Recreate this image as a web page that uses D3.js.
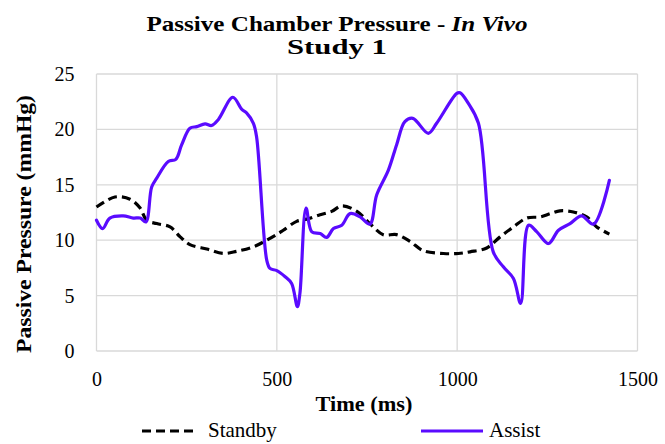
<!DOCTYPE html>
<html>
<head>
<meta charset="utf-8">
<script src="https://cdn.jsdelivr.net/npm/d3@7"></script>
<style>
  html, body { margin: 0; padding: 0; background: #fff; }
</style>
</head>
<body>
<svg id="chart" width="665" height="444"></svg>
<script>
// Passive chamber pressure traces (time in ms, pressure in mmHg)
const standbyTime = [0, 51, 93, 121, 139, 167, 204, 232, 259, 306, 352, 389, 435, 472, 504, 518, 555, 583, 620, 652, 680, 722, 758, 795, 832, 869, 906, 962, 1003, 1036, 1082, 1119, 1156, 1193, 1230, 1258, 1285, 1322, 1359, 1387, 1422];
const standbyValues = [13.0, 13.9, 13.7, 12.9, 11.8, 11.5, 11.2, 10.3, 9.6, 9.2, 8.8, 9.0, 9.4, 10.0, 10.6, 10.9, 11.7, 11.9, 12.3, 12.6, 13.1, 12.6, 11.5, 10.5, 10.5, 9.9, 9.05, 8.8, 8.8, 8.95, 9.3, 10.3, 11.2, 12.0, 12.1, 12.4, 12.65, 12.55, 12.1, 11.2, 10.55];

const assistTime = [0, 17, 37, 74, 102, 121, 137, 153, 167, 199, 220, 236, 259, 278, 301, 319, 338, 378, 403, 416, 435, 444, 472, 481, 500, 523, 541, 557, 564, 581, 597, 620, 638, 657, 680, 703, 731, 758, 777, 809, 832, 855, 877, 920, 943, 999, 1008, 1031, 1059, 1100, 1128, 1156, 1176, 1198, 1221, 1253, 1281, 1313, 1345, 1378, 1422];
const assistValues = [11.8, 11.05, 12.0, 12.2, 12.0, 12.0, 11.65, 14.8, 15.6, 17.1, 17.3, 18.6, 20.1, 20.25, 20.5, 20.35, 20.9, 22.9, 21.8, 21.5, 20.55, 19.3, 8.2, 7.45, 7.25, 6.7, 6.1, 4.0, 5.2, 12.9, 10.75, 10.6, 10.25, 11.05, 11.35, 12.4, 12.1, 11.45, 14.1, 16.3, 18.6, 20.7, 21.0, 19.65, 20.55, 23.25, 23.3, 22.35, 20.55, 8.95, 7.6, 6.55, 4.3, 11.35, 10.75, 9.7, 10.9, 11.5, 12.2, 11.45, 15.4];

const xTicks = [0, 500, 1000, 1500];
const yTicks = [0, 5, 10, 15, 20, 25];
const seriesNames = ["Standby", "Assist"];
const seriesColors = ["#000000", "#5a0bff"];

const FONT = "Liberation Serif";
const svg = d3.select("#chart");
const plot = { left: 96.5, right: 637.5, top: 74, bottom: 351 };

const x = d3.scaleLinear().domain([0, 1500]).range([plot.left, plot.right]);
const y = d3.scaleLinear().domain([0, 25]).range([plot.bottom, plot.top]);

// Grid
const grid = svg.append("g").attr("stroke", "#d9d9d9").attr("stroke-width", 1.3);
grid.selectAll("line.h").data(yTicks).join("line")
  .attr("x1", plot.left).attr("x2", plot.right)
  .attr("y1", d => y(d)).attr("y2", d => y(d));
grid.selectAll("line.v").data(xTicks).join("line")
  .attr("y1", plot.top).attr("y2", plot.bottom)
  .attr("x1", d => x(d)).attr("x2", d => x(d));

// Axes (labels only; lines come from the grid)
const yAxis = svg.append("g").attr("transform", `translate(${plot.left},0)`)
  .call(d3.axisLeft(y).tickValues(yTicks).tickFormat(d3.format("d")).tickSize(0).tickPadding(22));
const xAxis = svg.append("g").attr("transform", `translate(0,${plot.bottom})`)
  .call(d3.axisBottom(x).tickValues(xTicks).tickFormat(d3.format("d")).tickSize(0).tickPadding(21));
[yAxis, xAxis].forEach(a => {
  a.select(".domain").remove();
  a.attr("font-family", null).attr("font-size", null);
  a.selectAll("text").attr("fill", "#000").attr("font-family", FONT).attr("font-size", 20);
});

// Lines
const line = d3.line().x(d => x(d[0])).y(d => y(d[1])).curve(d3.curveCatmullRom.alpha(0.5));
const standby = d3.zip(standbyTime, standbyValues);
const assist = d3.zip(assistTime, assistValues);

svg.append("path").datum(standby)
  .attr("fill", "none").attr("stroke", seriesColors[0]).attr("stroke-width", 3.2)
  .attr("stroke-dasharray", "9,5").attr("d", line);
svg.append("path").datum(assist)
  .attr("fill", "none").attr("stroke", seriesColors[1]).attr("stroke-width", 3.2)
  .attr("stroke-linejoin", "round").attr("stroke-linecap", "round").attr("d", line);

// Titles
const title = svg.append("text").attr("x", 337).attr("y", 31).attr("text-anchor", "middle")
  .attr("font-family", FONT).attr("font-size", 22).attr("font-weight", "bold")
  .attr("textLength", 381).attr("lengthAdjust", "spacingAndGlyphs");
title.append("tspan").text("Passive Chamber Pressure - ");
title.append("tspan").attr("font-style", "italic").text("In Vivo");
svg.append("text").attr("x", 337).attr("y", 54).attr("text-anchor", "middle")
  .attr("font-family", FONT).attr("font-size", 22).attr("font-weight", "bold")
  .attr("textLength", 100).attr("lengthAdjust", "spacingAndGlyphs").text("Study 1");

svg.append("text").attr("x", 364).attr("y", 411).attr("text-anchor", "middle")
  .attr("font-family", FONT).attr("font-size", 21).attr("font-weight", "bold")
  .attr("textLength", 97).attr("lengthAdjust", "spacingAndGlyphs").text("Time (ms)");
svg.append("text").attr("transform", "translate(31,224) rotate(-90)").attr("text-anchor", "middle")
  .attr("font-family", FONT).attr("font-size", 22).attr("font-weight", "bold")
  .attr("textLength", 258).attr("lengthAdjust", "spacingAndGlyphs").text("Passive Pressure (mmHg)");

// Legend
const legendItems = [
  { name: seriesNames[0], x1: 142, x2: 195, tx: 208, dash: "9,5" },
  { name: seriesNames[1], x1: 421, x2: 483, tx: 489, dash: null }
];
legendItems.forEach((it, i) => {
  svg.append("line").attr("x1", it.x1).attr("x2", it.x2).attr("y1", 431).attr("y2", 431)
    .attr("stroke", seriesColors[i]).attr("stroke-width", 3.2)
    .attr("stroke-dasharray", it.dash);
  svg.append("text").attr("x", it.tx).attr("y", 437)
    .attr("font-family", FONT).attr("font-size", 21).text(it.name);
});
</script>
</body>
</html>
